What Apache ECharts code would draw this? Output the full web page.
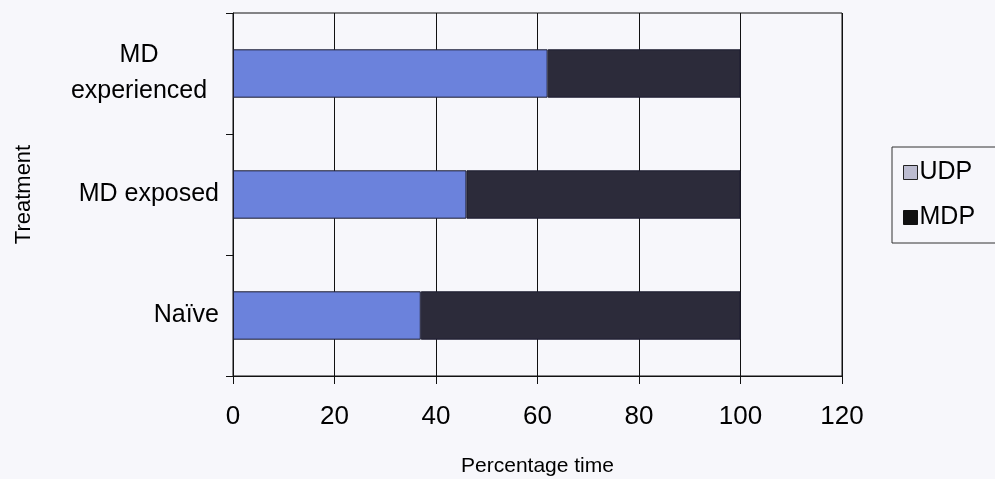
<!DOCTYPE html>
<html>
<head>
<meta charset="utf-8">
<script src="https://cdn.jsdelivr.net/npm/echarts@6/dist/echarts.min.js"></script>
<style>
  html, body { margin: 0; padding: 0; background: #f7f7fb; }
  #chart { width: 995px; height: 479px; }
</style>
</head>
<body>
<div id="chart"></div>
<script>
// data (bottom to top)
const categories = ['Naïve', 'MD exposed', 'MD experienced']
const udp = [37, 46, 62]
const mdp = [63, 54, 38]
const xTicks = { min: 0, max: 120, interval: 20 }

const font = 'Arial, "Liberation Sans", Helvetica, sans-serif'
var myChart = echarts.init(document.getElementById('chart'))

let option = {
  backgroundColor: '#f7f7fb',
  animation: false,
  textStyle: { fontFamily: font, color: '#000' },
  grid: {
    left: 233,
    right: 153,
    top: 13,
    bottom: 103,
    outerBoundsMode: 'none',
    containLabel: false,
    show: true,
    borderColor: '#111',
    borderWidth: 1,
    backgroundColor: 'transparent'
  },
  legend: {
    orient: 'vertical',
    left: 892,
    top: 147,
    padding: [13, 30, 13, 11],
    itemGap: 20,
    itemWidth: 14,
    itemHeight: 14,
    borderColor: '#333',
    borderWidth: 1,
    textStyle: { fontSize: 25, color: '#000', fontFamily: font, padding: [0, 0, 0, -3] },
    data: [
      { name: 'UDP', icon: 'rect', itemStyle: { color: '#bcbcd0', borderColor: '#222', borderWidth: 1 } },
      { name: 'MDP', icon: 'rect', itemStyle: { color: '#111', borderColor: '#111', borderWidth: 1 } }
    ]
  },
  xAxis: {
    type: 'value',
    min: xTicks.min,
    max: xTicks.max,
    interval: xTicks.interval,
    name: 'Percentage time',
    nameLocation: 'middle',
    nameGap: 80,
    nameTextStyle: { fontSize: 21, color: '#000', fontFamily: font },
    axisLine: { show: true, lineStyle: { color: '#111', width: 1 } },
    axisTick: { show: true, length: 8, lineStyle: { color: '#111' } },
    axisLabel: { fontSize: 26, color: '#000', margin: 28, fontFamily: font },
    splitLine: { show: true, lineStyle: { color: '#111', width: 1 } }
  },
  yAxis: {
    type: 'category',
    data: categories,
    name: 'Treatment',
    nameLocation: 'middle',
    nameGap: 198,
    nameTextStyle: { fontSize: 22, color: '#000', fontFamily: font },
    axisLine: { show: true, lineStyle: { color: '#111', width: 1 } },
    axisTick: { show: true, length: 7, lineStyle: { color: '#111' } },
    axisLabel: {
      fontSize: 25,
      color: '#000',
      margin: 14,
      fontFamily: font,
      formatter: function (v) {
        if (v === 'MD experienced') return '{c|MD}\n{c|experienced}'
        return v
      },
      rich: {
        c: { width: 160, align: 'center', fontSize: 25, lineHeight: 36, color: '#000', fontFamily: font }
      }
    }
  },
  series: [
    {
      name: 'UDP',
      type: 'bar',
      stack: 'total',
      barWidth: '40%',
      itemStyle: { color: '#6b82dc', borderColor: '#1c1c30', borderWidth: 1 },
      data: udp
    },
    {
      name: 'MDP',
      type: 'bar',
      stack: 'total',
      barWidth: '40%',
      itemStyle: { color: '#2c2b3a', borderColor: '#1c1c30', borderWidth: 1 },
      data: mdp
    }
  ]
}

myChart.setOption(option)
window.onresize = function () {
  myChart.resize()
}
</script>
</body>
</html>
